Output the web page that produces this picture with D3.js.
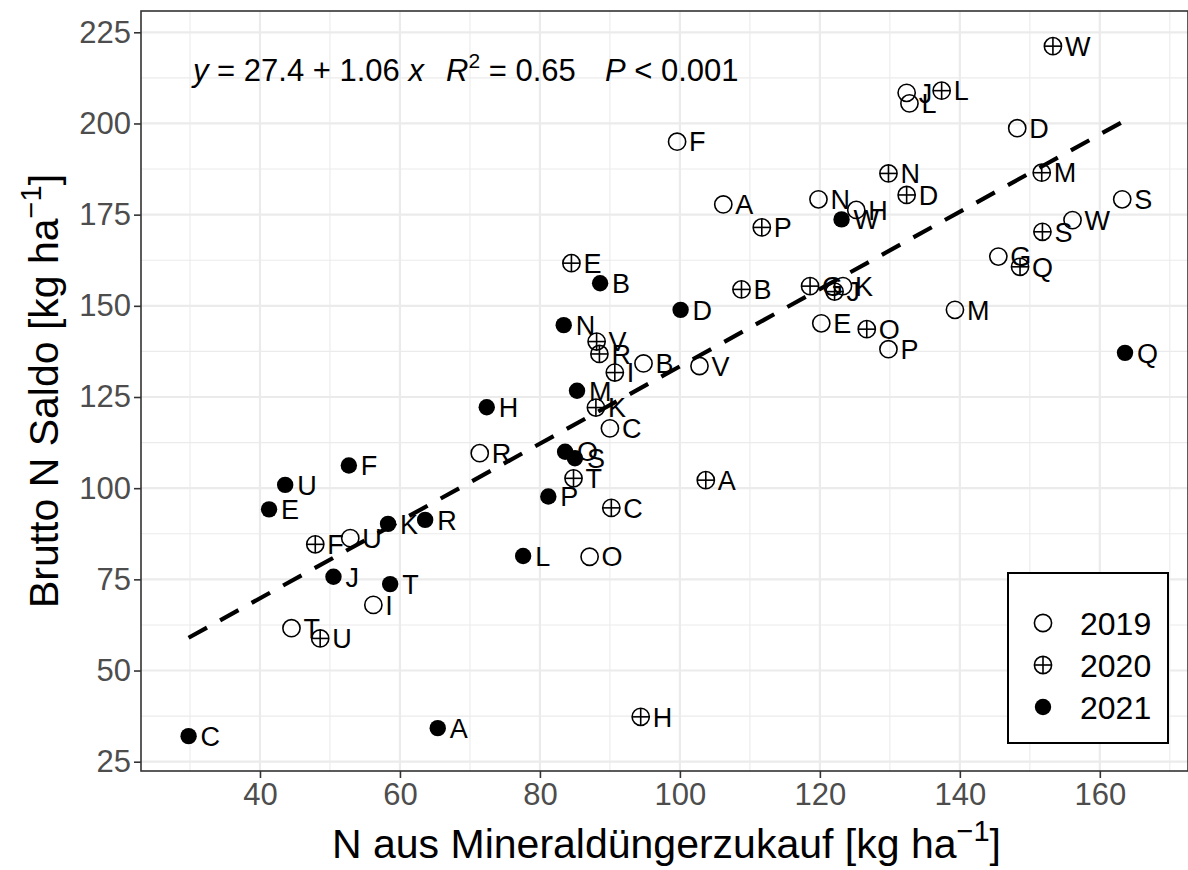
<!DOCTYPE html>
<html>
<head>
<meta charset="utf-8">
<script src="https://cdn.jsdelivr.net/npm/d3@7/dist/d3.min.js"></script>
<style>
  body { margin: 0; background: #fff; }
  svg { display: block; font-family: "Liberation Sans", Arial, Helvetica, sans-serif; }
</style>
</head>
<body>
<svg width="1188" height="870"></svg>
<script>
// ---- data ----
const farms2019 = ["A","B","C","D","E","F","G","H","I","J","K","L","M","N","O","P","R","S","T","U","V","W"];
const x2019 = [106.2, 94.8, 90.0, 148.2, 120.2, 99.6, 145.5, 125.2, 56.2, 132.4, 123.3, 132.8, 139.3, 119.8, 87.1, 129.8, 71.4, 163.2, 44.5, 52.9, 102.8, 156.1];
const y2019 = [177.8, 134.2, 116.4, 198.7, 145.2, 195.0, 163.5, 176.3, 68.0, 208.4, 155.4, 205.5, 148.9, 179.2, 81.2, 138.1, 109.6, 179.2, 61.6, 86.3, 133.5, 173.5];

const farms2020 = ["A","B","C","D","E","F","G","H","I","J","K","L","M","N","O","P","Q","R","S","T","U","V","W"];
const x2020 = [103.7, 108.8, 90.2, 132.4, 84.5, 47.9, 118.6, 94.4, 90.7, 122.1, 88.0, 137.4, 151.7, 129.8, 126.7, 111.7, 148.6, 88.5, 151.8, 84.8, 48.6, 88.1, 153.3];
const y2020 = [102.2, 154.5, 94.6, 180.4, 161.7, 84.6, 155.4, 37.3, 131.7, 153.9, 122.1, 209.0, 186.5, 186.3, 143.6, 171.5, 160.7, 136.8, 170.3, 102.7, 58.8, 140.2, 221.2];

const farms2021 = ["A","B","C","D","E","F","H","J","K","L","M","N","O","P","Q","R","S","T","U","W"];
const x2021 = [65.4, 88.6, 29.8, 100.1, 41.3, 52.7, 72.4, 50.5, 58.3, 77.6, 85.3, 83.4, 83.6, 81.2, 163.6, 63.6, 85.0, 58.6, 43.6, 123.1];
const y2021 = [34.2, 156.2, 32.0, 148.9, 94.2, 106.2, 122.2, 75.7, 90.2, 81.4, 126.7, 144.7, 110.0, 97.7, 137.1, 91.3, 108.2, 73.7, 100.9, 173.7];

const years = ["2019", "2020", "2021"];
const xTicks = [40, 60, 80, 100, 120, 140, 160];
const yTicks = [25, 50, 75, 100, 125, 150, 175, 200, 225];

// fitted line as printed in the chart
const fitIntercept = 27.4;
const fitSlope = 1.06;

// ---- layout ----
const svg = d3.select("svg");
const W = 1188, H = 870;
const panel = { left: 141, top: 11, right: 1188, bottom: 771 };

const x = d3.scaleLinear().domain([23.0, 172.6]).range([panel.left, panel.right]);
const y = d3.scaleLinear().domain([22.45, 230.84]).range([panel.bottom, panel.top]);

svg.append("rect").attr("width", W).attr("height", H).attr("fill", "#fff");

// gather points
const seriesDefs = [
  { year: "2019", ids: farms2019, xs: x2019, ys: y2019 },
  { year: "2020", ids: farms2020, xs: x2020, ys: y2020 },
  { year: "2021", ids: farms2021, xs: x2021, ys: y2021 }
];
const points = [];
seriesDefs.forEach(s => {
  s.ids.forEach((id, i) => points.push({ year: s.year, id: id, x: s.xs[i], y: s.ys[i] }));
});

// grid
const grid = svg.append("g");
const xMinor = d3.range(30, 175, 20);
const yMinor = d3.range(37.5, 230, 25);
grid.selectAll(".xmin").data(xMinor).enter().append("line")
  .attr("x1", d => x(d)).attr("x2", d => x(d))
  .attr("y1", panel.top).attr("y2", panel.bottom)
  .attr("stroke", "#ebebeb").attr("stroke-width", 1.1);
grid.selectAll(".ymin").data(yMinor).enter().append("line")
  .attr("y1", d => y(d)).attr("y2", d => y(d))
  .attr("x1", panel.left).attr("x2", panel.right)
  .attr("stroke", "#ebebeb").attr("stroke-width", 1.1);
grid.selectAll(".xmaj").data(xTicks).enter().append("line")
  .attr("x1", d => x(d)).attr("x2", d => x(d))
  .attr("y1", panel.top).attr("y2", panel.bottom)
  .attr("stroke", "#ebebeb").attr("stroke-width", 2.2);
grid.selectAll(".ymaj").data(yTicks).enter().append("line")
  .attr("y1", d => y(d)).attr("y2", d => y(d))
  .attr("x1", panel.left).attr("x2", panel.right)
  .attr("stroke", "#ebebeb").attr("stroke-width", 2.2);

// points
function drawShape(g, year) {
  if (year === "2019") {
    g.append("circle").attr("r", 8.6).attr("fill", "none").attr("stroke", "#000").attr("stroke-width", 1.6);
  } else if (year === "2020") {
    g.append("circle").attr("r", 8.6).attr("fill", "none").attr("stroke", "#000").attr("stroke-width", 1.6);
    g.append("line").attr("x1", -8.6).attr("x2", 8.6).attr("stroke", "#000").attr("stroke-width", 1.6);
    g.append("line").attr("y1", -8.6).attr("y2", 8.6).attr("stroke", "#000").attr("stroke-width", 1.6);
  } else {
    g.append("circle").attr("r", 8.2).attr("fill", "#000");
  }
}

const pts = svg.append("g");
points.forEach(p => {
  const g = pts.append("g").attr("transform", `translate(${x(p.x)},${y(p.y)})`);
  drawShape(g, p.year);
});

// regression line over the data range
const xExt = d3.extent(points, d => d.x);
svg.append("line")
  .attr("x1", x(xExt[0])).attr("y1", y(fitIntercept + fitSlope * xExt[0]))
  .attr("x2", x(xExt[1])).attr("y2", y(fitIntercept + fitSlope * xExt[1]))
  .attr("stroke", "#000").attr("stroke-width", 4.2)
  .attr("stroke-dasharray", "21,15");

// labels
svg.append("g").selectAll("text").data(points).enter().append("text")
  .attr("x", d => x(d.x) + 12)
  .attr("y", d => y(d.y))
  .attr("dy", "0.36em")
  .attr("font-size", 27)
  .attr("fill", "#000")
  .text(d => d.id);

// equation
const eq = svg.append("g").attr("font-size", 31).attr("fill", "#000");
const t1 = eq.append("text").attr("x", 193).attr("y", 81);
t1.append("tspan").attr("font-style", "italic").text("y");
t1.append("tspan").text(` = ${fitIntercept} + ${fitSlope} `);
t1.append("tspan").attr("font-style", "italic").text("x");
const t2 = eq.append("text").attr("x", 446).attr("y", 81);
t2.append("tspan").attr("font-style", "italic").text("R");
t2.append("tspan").attr("font-size", 21).attr("dy", -13).text("2");
t2.append("tspan").attr("dy", 13).text(" = 0.65");
const t3 = eq.append("text").attr("x", 605).attr("y", 81);
t3.append("tspan").attr("font-style", "italic").text("P");
t3.append("tspan").text(" < 0.001");

// panel border
svg.append("rect")
  .attr("x", panel.left).attr("y", panel.top)
  .attr("width", panel.right - panel.left).attr("height", panel.bottom - panel.top)
  .attr("fill", "none").attr("stroke", "#333").attr("stroke-width", 1.6);

// axes
const xAxis = svg.append("g").attr("transform", `translate(0,${panel.bottom})`)
  .call(d3.axisBottom(x).tickValues(xTicks).tickSize(7).tickPadding(5));
const yAxis = svg.append("g").attr("transform", `translate(${panel.left},0)`)
  .call(d3.axisLeft(y).tickValues(yTicks).tickSize(7).tickPadding(3));
[xAxis, yAxis].forEach(a => {
  a.select(".domain").remove();
  a.selectAll(".tick line").attr("stroke", "#333").attr("stroke-width", 1.6);
  a.selectAll(".tick text").attr("fill", "#4d4d4d").attr("font-size", 31)
    .attr("font-family", "'Liberation Sans', Arial, sans-serif");
});

// axis titles
const xt = svg.append("text").attr("x", (panel.left + panel.right) / 2 + 2).attr("y", 858)
  .attr("text-anchor", "middle").attr("font-size", 41).attr("fill", "#000");
xt.append("tspan").text("N aus Mineraldüngerzukauf [kg ha");
xt.append("tspan").attr("font-size", 29).attr("dy", -17).text("\u22121");
xt.append("tspan").attr("dy", 17).text("]");

const yt = svg.append("text")
  .attr("transform", `translate(58,${(panel.top + panel.bottom) / 2}) rotate(-90)`)
  .attr("text-anchor", "middle").attr("font-size", 41).attr("fill", "#000");
yt.append("tspan").text("Brutto N Saldo [kg ha");
yt.append("tspan").attr("font-size", 29).attr("dy", -17).text("\u22121");
yt.append("tspan").attr("dy", 17).text("]");

// legend
const lg = svg.append("g").attr("transform", "translate(1008,573)");
lg.append("rect").attr("width", 160).attr("height", 170)
  .attr("fill", "#fff").attr("stroke", "#000").attr("stroke-width", 2);
years.forEach((yr, i) => {
  const row = lg.append("g").attr("transform", `translate(35,${50 + i * 42})`);
  drawShape(row, yr);
  row.append("text").attr("x", 37).attr("dy", "0.36em").attr("font-size", 32).attr("fill", "#000").text(yr);
});
</script>
</body>
</html>
